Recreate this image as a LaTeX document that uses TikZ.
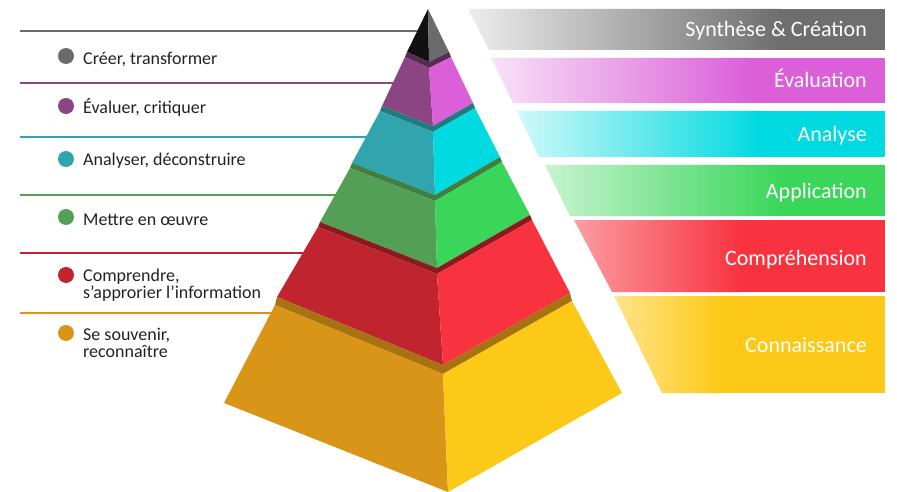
\documentclass[tikz,border=0pt]{standalone}
\usepackage{fontspec}
\setmainfont{Carlito}
\definecolor{tipdark}{HTML}{111111}
\definecolor{tipgray}{HTML}{6B6B6B}
\definecolor{purpdark}{HTML}{8B4582}
\definecolor{purplight}{HTML}{DA5FD8}
\definecolor{purpband}{HTML}{5A2A55}
\definecolor{cyandark}{HTML}{30A5AE}
\definecolor{cyanlight}{HTML}{00DAE0}
\definecolor{cyanband}{HTML}{217A7E}
\definecolor{greendark}{HTML}{539F55}
\definecolor{greenlight}{HTML}{3AD65A}
\definecolor{greenband}{HTML}{3F7F42}
\definecolor{reddark}{HTML}{C0242E}
\definecolor{redlight}{HTML}{F8333F}
\definecolor{redband}{HTML}{8A1A1F}
\definecolor{yellowdark}{HTML}{D99518}
\definecolor{yellowlight}{HTML}{FDC918}
\definecolor{yellowband}{HTML}{A87212}
\definecolor{graybar}{HTML}{6E6E6E}
\definecolor{labeltext}{HTML}{222222}

\begin{document}
\begin{tikzpicture}[x=1pt,y=-1pt]
	\useasboundingbox (0,0) rectangle (897,492);
	% leader lines
	\foreach \y/\xe/\c in {31/425/tipgray, 83/400/purpdark, 137/380/cyandark, 195/345/greendark, 253/310/reddark, 313/285/yellowdark}
		\draw[\c, line width=1.3pt] (20,\y) -- (\xe,\y);
	% pyramid corners
	\coordinate (apex) at (428,9);
	\coordinate (L0) at (407,52); \coordinate (C0) at (429,62); \coordinate (R0) at (449,52);
	\coordinate (L1) at (382,106); \coordinate (C1) at (433,126); \coordinate (R1) at (473,103);
	\coordinate (L2) at (352,163); \coordinate (C2) at (435,195); \coordinate (R2) at (500,157);
	\coordinate (L3) at (320,222); \coordinate (C3) at (437,268); \coordinate (R3) at (530,215);
	\coordinate (L4) at (277,297); \coordinate (C4) at (443,365); \coordinate (R4) at (570,293);
	\coordinate (L5) at (224,403); \coordinate (C5) at (448,492); \coordinate (R5) at (622,393);
	\fill[tipdark] (apex) -- (L0) -- (C0) -- cycle;
	\fill[tipgray] (apex) -- (C0) -- (R0) -- cycle;
	\foreach \k/\p/\d/\cl/\cr/\cb in {1/0/5/purpdark/purplight/purpband, 2/1/5/cyandark/cyanlight/cyanband, 3/2/5/greendark/greenlight/greenband, 4/3/5/reddark/redlight/redband, 5/4/8/yellowdark/yellowlight/yellowband}
	{
		\fill[\cb] (L\p) -- (C\p) -- (R\p) -- ([shift={(2,\d)}]R\p) -- ([shift={(0,\d+1)}]C\p) -- ([shift={(-2,\d)}]L\p) -- cycle;
		\fill[\cl] ([shift={(-2,\d)}]L\p) -- ([shift={(0,\d+1)}]C\p) -- (C\k) -- (L\k) -- cycle;
		\fill[\cr] ([shift={(0,\d+1)}]C\p) -- ([shift={(2,\d)}]R\p) -- (R\k) -- (C\k) -- cycle;
	}
	% right bands
	\foreach \i/\t/\b/\xt/\xb/\xs/\c/\s/\base/\txt in {1/9/50/468/489/780/graybar/12/37/Synthèse \& Création, 2/58/103/491/513/750/purplight/18/88/Évaluation, 3/111/157/517/539/760/cyanlight/18/142/Analyse, 4/165/216/545/570/780/greenlight/28/198/Application, 5/220/292/574/612/740/redlight/48/265/Compréhension, 6/296/393/614/662/720/yellowlight/50/352/Connaissance}
	{
		\begin{scope}
			\clip (\xt,\t) -- (885,\t) -- (885,\b) -- (\xb,\b) -- cycle;
			\fill[\c] (\xs,\t) rectangle (885,\b);
			\shade[left color=\c!\s, right color=\c] (\xt-1,\t) rectangle (\xs+1,\b);
		\end{scope}
		\node[anchor=base east, text=white, inner sep=0pt, font=\fontsize{22}{26}\selectfont] (band\i) at (867,\base) {\txt};
	}
	% left labels (base = last line)
	\foreach \i/\y/\base/\c/\txt in {1/56/65/tipgray/{Créer, transformer}, 2/106/114/purpdark/{Évaluer, critiquer}, 3/159/165/cyandark/{Analyser, déconstruire}, 4/217/225/greendark/{Mettre en œuvre}, 5/275/298/reddark/{Comprendre,\\ s’approrier l’information}, 6/333/357/yellowdark/{Se souvenir,\\ reconnaître}}
	{
		\fill[\c] (66,\y) circle (8pt);
		\node[anchor=base west, align=left, inner sep=0pt, text=labeltext, font=\fontsize{18}{17}\selectfont] (lab\i) at (83,\base) {\txt};
	}
\end{tikzpicture}
\end{document}
